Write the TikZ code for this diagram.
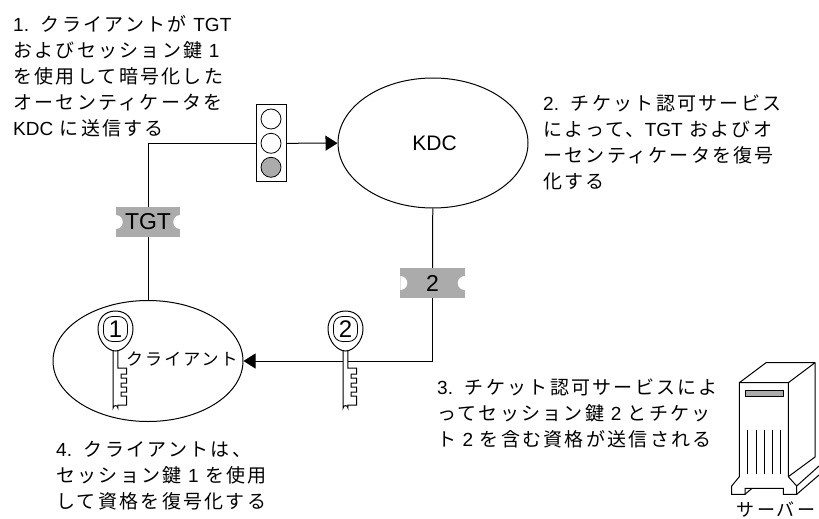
\documentclass[tikz,border=0pt]{standalone}
\usepackage{fontspec}
\usepackage{xcolor}
\usepackage{tikz}
\usetikzlibrary{arrows.meta, positioning, shapes.geometric}
\setmainfont[LetterSpace=12]{Noto Sans CJK JP}
\newfontfamily\lat{Liberation Sans}
\definecolor{ticketgray}{HTML}{ABABAB}

\tikzset{
  conn/.style={draw, line width=1pt},
  arrow/.style={conn, -{Triangle[length=12pt,width=15pt]}},
  ticket/.style={fill=ticketgray, minimum width=64.5pt, minimum height=30pt, inner sep=0pt, font=\lat\fontsize{23}{23}\selectfont,
    path picture={\fill[white] (path picture bounding box.west) circle (7pt) (path picture bounding box.east) circle (7pt);}},
  steptext/.style={align=left, anchor=west, inner sep=0pt, font=\fontsize{19}{26}\selectfont},
  lamp/.style={draw, circle, minimum size=20pt, inner sep=0pt, line width=0.8pt}
}

% key icon: #1 shaft x, #2 digit, #3 name
\newcommand{\keyicon}[3]{
  \begin{scope}[shift={(#1,331)}]
    \draw[line width=1pt, fill=white] (-2.4,18) -- (-2.4,77) arc (180:360:2.4) -- (2.4,74) -- (11,74) -- (11,65) -- (5.5,65) -- (5.5,61) -- (11,61) -- (11,56) -- (5.5,56) -- (5.5,52) -- (11,52) -- (11,47) -- (5.5,47) -- (5.5,43) -- (11,43) -- (11,37) -- (2.4,37) -- (2.4,18);
    \draw[line width=1pt, fill=white] (0,-20) .. controls (12,-20) and (17.5,-11) .. (17.5,-2) .. controls (17.5,10) and (8,20) .. (0,20) .. controls (-8,20) and (-17.5,10) .. (-17.5,-2) .. controls (-17.5,-11) and (-12,-20) .. (0,-20);
    \node[draw, rounded corners=9pt, fill=white, minimum width=24pt, minimum height=25pt, inner sep=0pt, line width=0.8pt, font=\lat\fontsize{24}{24}\selectfont] (#3) at (0,-2) {#2};
  \end{scope}
}

\begin{document}
\begin{tikzpicture}[x=1pt, y=-1pt]
    \useasboundingbox (0,0) rectangle (819,519);

    \node [draw, ellipse, minimum width=190pt, minimum height=130pt, line width=1pt, font=\lat\fontsize{21}{21}\selectfont] (kdc) at (433,143) {\hspace{3pt}KDC};
    \node [draw, ellipse, minimum width=190pt, minimum height=121pt, line width=1pt] (client) at (148,361) {};
    \node [draw, rectangle, minimum width=30pt, minimum height=77pt, line width=1pt] (light) at (271,143.3) {};
    \node [lamp] (lamp1) at (271,119) {};
    \node [lamp] (lamp2) at (271,143.3) {};
    \node [lamp, fill=ticketgray] (lamp3) at (271,167.3) {};
    \node [ticket] (tgt) at (148,222) {TGT};
    \node [ticket] (tick2) at (432.5,283) {2};

    \draw [conn] (tgt) -- (client);
    \draw [conn] (tgt) |- (light);
    \draw [arrow] (light) -- (kdc);
    \draw [conn] (kdc) -- (tick2);
    \draw [arrow] (tick2) |- (client);

    \keyicon{115.5}{1}{key1}
    \keyicon{345.5}{2}{key2}
    \node [anchor=west, inner sep=0pt, font=\fontsize{17}{17}\selectfont] (clientlabel) at (126,359) {クライアント};

    \node [steptext] (step1) at (13,76) {{\lat 1.}\, クライアントが {\lat TGT}\\およびセッション鍵 {\lat 1}\\を使用して暗号化した\\オーセンティケータを\\{\lat KDC} に送信する};
    \node [steptext] (step2) at (543,142.5) {{\lat 2.}\, チケット認可サービス\\によって、{\lat TGT} およびオ\\ーセンティケータを復号\\化する};
    \node [steptext] (step3) at (437,413) {{\lat 3.}\, チケット認可サービスによ\\ってセッション鍵 {\lat 2} とチケッ\\ト {\lat 2} を含む資格が送信される};
    \node [steptext] (step4) at (56,475.5) {{\lat 4.}\, クライアントは、\\セッション鍵 {\lat 1} を使用\\して資格を復号化する};

    % server
    \draw [line width=1pt, line join=round] (739.3,382.7) -- (766,362.7) -- (815,362.7) -- (788.3,382.7) -- cycle;
    \draw [line width=1pt] (739.3,382.7) -- (739.3,476.7) -- (731.7,486) -- (731.7,494.3) -- (745,494.3) -- (745,488.3) -- (783.3,488.3) -- (783.3,494.3) -- (796.7,494.3) -- (796.7,486) -- (788.3,476.7) -- (788.3,382.7);
    \draw [line width=1pt] (815,362.7) -- (815,457) -- (788.3,476.7);
    \draw [line width=1pt] (796.7,486) -- (819,466);
    \draw [line width=1pt] (796.7,494.3) -- (819,475);
    \draw [line width=1pt] (745,488.3) -- (752,488.3);
    \draw [line width=1pt] (745,494.3) -- (752,488.3);
    \draw [line width=1pt, fill=ticketgray] (745,390.7) rectangle (783.3,396);
    \foreach \vx in {747.7,756,764.3,772.7,780.3}
        \draw [line width=1pt] (\vx,430) -- (\vx,474);
    \node [anchor=north, inner sep=0pt, font=\fontsize{18}{18}\selectfont] (serverlabel) at (776,502) {サーバー};
\end{tikzpicture}
\end{document}
